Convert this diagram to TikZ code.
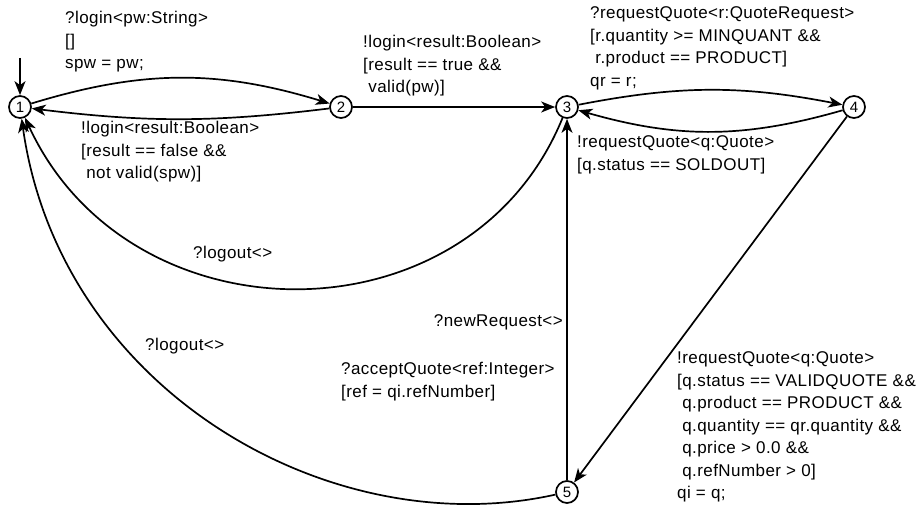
\documentclass[tikz,border=0pt]{standalone}
\usepackage{fontspec}
\setmainfont{Liberation Sans}
\usetikzlibrary{arrows.meta}
\begin{document}
\begin{tikzpicture}[x=1pt,y=-1pt,
  st/.style={circle,draw,line width=1.7pt,minimum size=22pt,inner sep=0pt,font=\fontsize{15}{15}\selectfont},
  tr/.style={line width=1.7pt,-{Stealth[length=14pt,width=11pt,inset=4pt]}},
  lbl/.style={align=left,anchor=base west,inner sep=0pt,font=\fontsize{17}{22.5}\selectfont\addfontfeatures{LetterSpace=2.5}},
  lblr/.style={lbl,anchor=base east,align=right}]
\useasboundingbox (0,0) rectangle (920,511);
\node[st] (n1) at (20,107) {1};
\node[st] (n2) at (341,107) {2};
\node[st] (n3) at (567,107) {3};
\node[st] (n4) at (854,107) {4};
\node[st] (n5) at (567,492) {5};
\coordinate (s) at (20,58);
\draw[tr] (s) -- (n1);
\draw[tr] (n1) to[bend left=17] (n2);
\draw[tr] (n2) to[bend left=7] (n1);
\draw[tr] (n2) -- (n3);
\draw[tr] (n3) to[bend left=11] (n4);
\draw[tr] (n4) to[bend left=16] (n3);
\draw[tr] (n3) .. controls (470,345) and (130,345) .. (n1);
\draw[tr] (n5) .. controls (330,545) and (60,390) .. (n1);
\draw[tr] (n5) -- (n3);
\draw[tr] (n4) -- (n5);
\node[lbl] (la) at (65,68.5) {?login<pw:String>\\{[}]\\spw = pw;};
\node[lbl] (lb) at (81,178.5) {!login<result:Boolean>\\{[}result == false \&\&\\~not valid(spw)]};
\node[lbl] (lc) at (363,92.5) {!login<result:Boolean>\\{[}result == true \&\&\\~valid(pw)]};
\node[lbl] (ld) at (590,86) {?requestQuote<r:QuoteRequest>\\{[}r.quantity >= MINQUANT \&\&\\~r.product == PRODUCT]\\qr = r;};
\node[lbl] (le) at (577,170) {!requestQuote<q:Quote>\\{[}q.status == SOLDOUT]};
\node[lbl] (lf) at (193,258.5) {?logout<>};
\node[lbl] (lg) at (145,350.5) {?logout<>};
\node[lblr] (lh) at (563,326.5) {?newRequest<>};
\node[lbl] (li) at (341,397) {?acceptQuote<ref:Integer>\\{[}ref = qi.refNumber]};
\node[lbl] (lj) at (677,498.5) {!requestQuote<q:Quote>\\{[}q.status == VALIDQUOTE \&\&\\~q.product == PRODUCT \&\&\\~q.quantity == qr.quantity \&\&\\~q.price > 0.0 \&\&\\~q.refNumber > 0]\\qi = q;};
\end{tikzpicture}
\end{document}
